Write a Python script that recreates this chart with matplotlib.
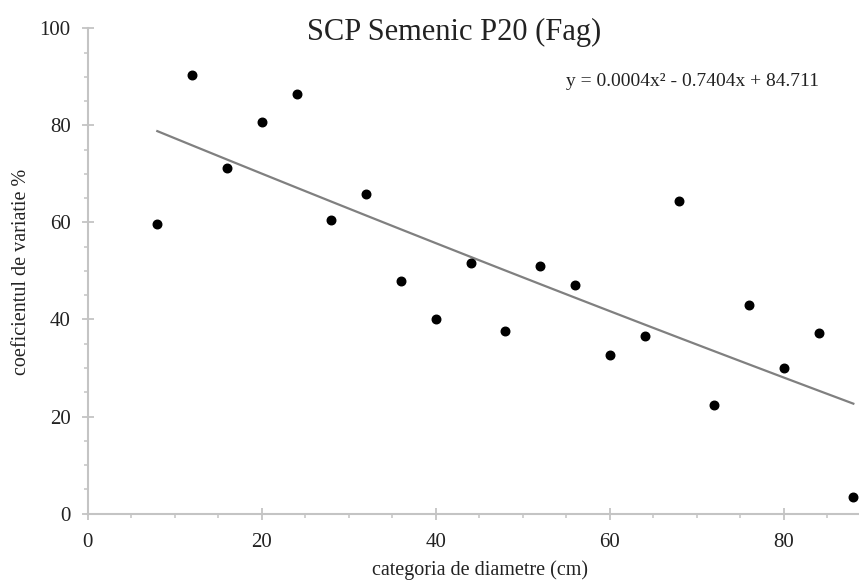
import numpy as np
import matplotlib
matplotlib.use("Agg")
import matplotlib.pyplot as plt
from matplotlib.ticker import MultipleLocator

# data
diam = [8, 12, 16, 20, 24, 28, 32, 36, 40, 44, 48, 52, 56, 60, 64, 68, 72, 76, 80, 84, 88]
cv = [59.6, 90.4, 71.3, 80.6, 86.4, 60.6, 65.9, 47.9, 40.0, 51.7, 37.6,
      51.1, 47.2, 32.6, 36.5, 64.4, 22.3, 42.9, 29.9, 37.3, 3.4]
# trendline coefficients as printed on the chart
coef = [0.0004, -0.7404, 84.711]

x_ticks = [0, 20, 40, 60, 80]
y_ticks = [0, 20, 40, 60, 80, 100]

plt.rcParams['font.family'] = ['Liberation Serif', 'DejaVu Serif']

fig = plt.figure(figsize=(8.59, 5.81), dpi=100)
ax = fig.add_axes([0.1021, 0.116, 0.8979, 0.8353])

xs = np.array(diam, dtype=float)
ax.plot(xs, np.polyval(coef, xs), color='#808080', lw=1.6, zorder=2)
ax.scatter(diam, cv, s=38, color='black', zorder=3, clip_on=False)

ax.set_xlim(0, 88.65)
ax.set_ylim(0, 100)
ax.set_xticks(x_ticks)
ax.set_yticks(y_ticks)
ax.xaxis.set_minor_locator(MultipleLocator(5))
ax.yaxis.set_minor_locator(MultipleLocator(5))

for s in ['top', 'right']:
    ax.spines[s].set_visible(False)
for s in ['left', 'bottom']:
    ax.spines[s].set_color('#c4c4c4')
    ax.spines[s].set_linewidth(1.5)

ax.tick_params(which='major', direction='inout', length=8.6, width=1.3,
               color='#c4c4c4', labelsize=15, labelcolor='#222222')
ax.tick_params(axis='y', which='major', pad=8)
ax.tick_params(axis='x', which='major', pad=10)
ax.tick_params(which='minor', direction='out', length=2.6, width=1.1, color='#c4c4c4')

fig.text(454 / 859, 1 - 40 / 581, 'SCP Semenic P20 (Fag)', fontsize=22,
         ha='center', va='baseline', color='#222222')
fig.text(692 / 859, 1 - 86 / 581, 'y = 0.0004x² - 0.7404x + 84.711', fontsize=14,
         ha='center', va='baseline', color='#222222')
fig.text(480 / 859, 1 - 575 / 581, 'categoria de diametre (cm)', fontsize=14.5,
         ha='center', va='baseline', color='#222222')
fig.text(22 / 859, 1 - 272 / 581, 'coeficientul de variatie %', fontsize=14.5,
         ha='center', va='center', rotation=90, color='#222222')

fig.savefig('out.png', dpi=100)
